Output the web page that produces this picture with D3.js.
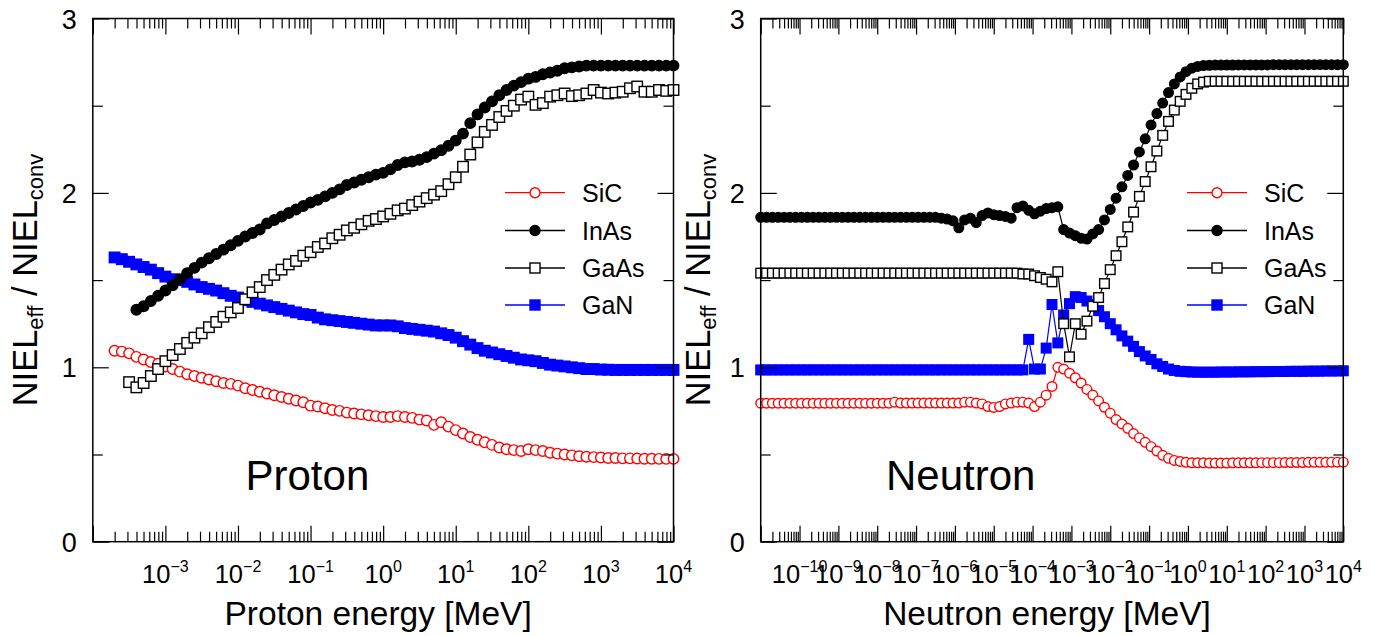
<!DOCTYPE html>
<html><head><meta charset="utf-8">
<script src="https://cdn.jsdelivr.net/npm/d3@7"></script>
<style>
body{margin:0;background:#fff}
svg{display:block}
text{font-family:"Liberation Sans",Arial,Helvetica,sans-serif;fill:#000}
</style></head>
<body><svg id="chart" width="1382" height="636"></svg>
<script>
// ---------------- DATA ----------------
const seriesNames = ["SiC", "InAs", "GaAs", "GaN"];
const panelLabels = ["Proton", "Neutron"];
const xTitles = ["Proton energy [MeV]", "Neutron energy [MeV]"];
const protonTickExps = [-3, -2, -1, 0, 1, 2, 3, 4];
const neutronTickExps = [-10, -9, -8, -7, -6, -5, -4, -3, -2, -1, 0, 1, 2, 3, 4];
const yTicks = [0, 1, 2, 3];
const yMinorTicks = [0.5, 1.5, 2.5];

// Proton panel: log10(E / MeV)
const protonLogE = [-3.7,-3.6,-3.5,-3.4,-3.3,-3.2,-3.1,-3.0,-2.9,-2.8,-2.7,-2.6,-2.5,-2.4,-2.3,-2.2,-2.1,-2.0,-1.9,-1.8,
 -1.7,-1.6,-1.5,-1.4,-1.3,-1.2,-1.1,-1.0,-0.9,-0.8,-0.7,-0.6,-0.5,-0.4,-0.3,-0.2,-0.1,0.0,0.1,0.2,
 0.3,0.4,0.5,0.6,0.7,0.8,0.9,1.0,1.1,1.2,1.3,1.4,1.5,1.6,1.7,1.8,1.9,2.0,2.1,2.2,
 2.3,2.4,2.5,2.6,2.7,2.8,2.9,3.0,3.1,3.2,3.3,3.4,3.5,3.6,3.7,3.8,3.9,4.0];
const protonSiC = [1.095,1.09,1.08,1.06,1.045,1.03,1.02,1.005,0.99,0.975,0.96,0.95,0.94,0.93,0.92,0.91,0.905,0.895,0.88,0.87,
 0.86,0.85,0.84,0.83,0.82,0.81,0.80,0.78,0.775,0.765,0.755,0.75,0.74,0.735,0.73,0.725,0.72,0.715,0.715,0.72,
 0.715,0.71,0.70,0.695,0.67,0.685,0.66,0.64,0.62,0.60,0.585,0.57,0.555,0.54,0.53,0.525,0.52,0.53,0.525,0.52,
 0.51,0.505,0.50,0.495,0.49,0.487,0.485,0.483,0.48,0.48,0.478,0.478,0.477,0.476,0.476,0.475,0.475,0.475];
const protonInAs = [null,null,null,1.33,1.35,1.38,1.41,1.44,1.47,1.505,1.54,1.57,1.60,1.625,1.65,1.675,1.70,1.725,1.75,1.77,
 1.79,1.825,1.845,1.865,1.885,1.905,1.925,1.945,1.96,1.98,2.0,2.02,2.045,2.06,2.075,2.09,2.105,2.115,2.135,2.16,
 2.175,2.18,2.19,2.205,2.225,2.245,2.27,2.30,2.34,2.40,2.45,2.49,2.525,2.56,2.59,2.615,2.635,2.655,2.665,2.68,
 2.69,2.70,2.715,2.72,2.725,2.73,2.73,2.73,2.73,2.73,2.73,2.73,2.73,2.73,2.73,2.73,2.73,2.73];
const protonGaAs = [null,null,0.915,0.885,0.91,0.95,0.99,1.035,1.07,1.105,1.14,1.17,1.195,1.23,1.26,1.29,1.315,1.34,1.39,1.43,
 1.46,1.50,1.53,1.56,1.59,1.61,1.64,1.66,1.69,1.71,1.74,1.76,1.785,1.80,1.82,1.84,1.85,1.865,1.88,1.90,
 1.91,1.93,1.95,1.97,1.99,2.01,2.05,2.09,2.15,2.22,2.29,2.35,2.39,2.435,2.47,2.50,2.535,2.552,2.505,2.515,
 2.552,2.56,2.57,2.555,2.56,2.57,2.59,2.575,2.57,2.575,2.58,2.60,2.61,2.58,2.58,2.59,2.585,2.59];
const protonGaN = [1.63,1.62,1.605,1.59,1.575,1.56,1.54,1.52,1.505,1.50,1.49,1.475,1.46,1.45,1.44,1.425,1.41,1.40,1.385,1.375,
 1.365,1.355,1.345,1.335,1.325,1.315,1.305,1.30,1.285,1.275,1.27,1.265,1.26,1.255,1.25,1.245,1.24,1.24,1.24,1.235,
 1.225,1.22,1.215,1.21,1.205,1.195,1.185,1.17,1.15,1.13,1.11,1.095,1.085,1.075,1.065,1.055,1.045,1.04,1.035,1.025,
 1.015,1.01,1.005,1.0,0.995,0.99,0.99,0.987,0.986,0.985,0.985,0.985,0.985,0.985,0.985,0.985,0.985,0.985];

// Neutron panel: log10(E / MeV)
const neutronLogE = [-11.00,-10.85,-10.70,-10.55,-10.40,-10.25,-10.10,-9.95,-9.80,-9.65,-9.50,-9.35,-9.20,-9.05,-8.90,-8.75,-8.60,-8.45,-8.30,-8.15,
 -8.00,-7.85,-7.70,-7.55,-7.40,-7.25,-7.10,-6.95,-6.80,-6.65,-6.50,-6.35,-6.20,-6.05,-5.90,-5.75,-5.60,-5.45,-5.30,-5.15,
 -5.00,-4.85,-4.70,-4.55,-4.40,-4.25,-4.10,-3.95,-3.80,-3.65,-3.50,-3.35,-3.20,-3.05,-2.90,-2.75,-2.60,-2.45,-2.30,-2.15,
 -2.00,-1.85,-1.70,-1.55,-1.40,-1.25,-1.10,-0.95,-0.80,-0.65,-0.50,-0.35,-0.20,-0.05,0.10,0.25,0.40,0.55,0.70,0.85,
 1.00,1.15,1.30,1.45,1.60,1.75,1.90,2.05,2.20,2.35,2.50,2.65,2.80,2.95,3.10,3.25,3.40,3.55,3.70,3.85,4.00];
const neutronSiC = [0.794,0.794,0.794,0.794,0.794,0.794,0.794,0.794,0.794,0.794,0.794,0.794,0.794,0.794,0.794,0.794,0.794,0.794,0.794,0.794,
 0.794,0.794,0.794,0.80,0.795,0.795,0.795,0.795,0.795,0.795,0.795,0.795,0.795,0.795,0.795,0.80,0.80,0.795,0.79,0.775,
 0.77,0.775,0.79,0.795,0.80,0.80,0.795,0.775,0.80,0.84,0.89,1.0,0.99,0.966,0.94,0.91,0.873,0.841,0.807,0.771,
 0.737,0.70,0.675,0.65,0.62,0.595,0.57,0.545,0.52,0.495,0.478,0.466,0.46,0.455,0.452,0.452,0.452,0.451,0.451,0.451,
 0.451,0.452,0.452,0.452,0.452,0.452,0.453,0.453,0.453,0.453,0.454,0.454,0.454,0.454,0.455,0.455,0.455,0.455,0.456,0.456,0.456];
const neutronInAs = [1.86,1.86,1.86,1.86,1.86,1.86,1.86,1.86,1.86,1.86,1.86,1.86,1.86,1.86,1.86,1.86,1.86,1.86,1.86,1.86,
 1.86,1.86,1.86,1.86,1.86,1.86,1.86,1.86,1.86,1.86,1.86,1.855,1.85,1.84,1.80,1.845,1.855,1.83,1.87,1.885,
 1.875,1.87,1.865,1.855,1.915,1.925,1.90,1.88,1.895,1.91,1.915,1.92,1.79,1.77,1.755,1.74,1.735,1.765,1.79,1.845,
 1.905,1.97,2.035,2.10,2.16,2.235,2.31,2.39,2.455,2.515,2.575,2.625,2.665,2.695,2.715,2.725,2.73,2.732,2.733,2.733,
 2.733,2.733,2.734,2.734,2.734,2.734,2.734,2.734,2.735,2.735,2.735,2.735,2.735,2.735,2.735,2.735,2.735,2.735,2.735,2.735,2.735];
const neutronGaAs = [1.54,1.54,1.54,1.54,1.54,1.54,1.54,1.54,1.54,1.54,1.54,1.54,1.54,1.54,1.54,1.54,1.54,1.54,1.54,1.54,
 1.54,1.54,1.54,1.54,1.54,1.54,1.54,1.54,1.54,1.54,1.54,1.54,1.54,1.54,1.54,1.54,1.54,1.54,1.54,1.54,
 1.54,1.54,1.54,1.54,1.54,1.535,1.535,1.525,1.515,1.505,1.49,1.548,1.25,1.06,1.25,1.19,1.265,1.35,1.40,1.48,
 1.56,1.64,1.72,1.805,1.89,1.98,2.065,2.15,2.24,2.33,2.41,2.475,2.525,2.565,2.60,2.625,2.635,2.64,2.64,2.64,
 2.64,2.64,2.64,2.64,2.64,2.64,2.64,2.64,2.64,2.64,2.64,2.64,2.64,2.64,2.64,2.64,2.64,2.64,2.64,2.64,2.64];
const neutronGaN = [0.985,0.985,0.985,0.985,0.985,0.985,0.985,0.985,0.985,0.985,0.985,0.985,0.985,0.985,0.985,0.985,0.985,0.985,0.985,0.985,
 0.985,0.985,0.985,0.985,0.985,0.985,0.985,0.985,0.985,0.985,0.985,0.985,0.985,0.985,0.985,0.985,0.985,0.985,0.985,0.985,
 0.985,0.985,0.985,0.985,0.985,0.985,1.16,0.99,0.99,1.11,1.36,1.14,1.30,1.365,1.405,1.40,1.38,1.36,1.325,1.29,
 1.25,1.215,1.18,1.15,1.12,1.09,1.065,1.045,1.02,1.005,0.99,0.982,0.977,0.975,0.973,0.972,0.972,0.972,0.972,0.973,
 0.973,0.973,0.974,0.974,0.974,0.975,0.975,0.975,0.976,0.976,0.976,0.977,0.977,0.977,0.978,0.978,0.978,0.979,0.979,0.979,0.98];

// ---------------- STYLE ----------------
const styles = {
  SiC:  {color: "#ff0000", shape: "circle", fill: "#ffffff"},
  InAs: {color: "#000000", shape: "circle", fill: "#000000"},
  GaAs: {color: "#000000", shape: "square", fill: "#ffffff"},
  GaN:  {color: "#0000ff", shape: "square", fill: "#0000ff"}
};
const drawOrder = ["GaN", "SiC", "InAs", "GaAs"];

const svg = d3.select("#chart");
svg.append("rect").attr("width", 1382).attr("height", 636).attr("fill", "#fff");

const yScale = d3.scaleLinear().domain([0, 3]).range([541.7, 18.5]);

function marker(g, shape, cx, cy, size, color, fill) {
  if (shape === "circle") {
    g.append("circle").attr("cx", cx).attr("cy", cy).attr("r", size / 2)
      .attr("fill", fill).attr("stroke", color).attr("stroke-width", 1.4);
  } else {
    g.append("rect").attr("x", cx - size / 2).attr("y", cy - size / 2)
      .attr("width", size).attr("height", size)
      .attr("fill", fill).attr("stroke", color).attr("stroke-width", 1.4);
  }
}

function drawPanel(cfg) {
  const x = d3.scaleLog().domain(cfg.domain).range([cfg.x0, cfg.x1]);
  const y = yScale;
  const g = svg.append("g");

  // series
  drawOrder.forEach(name => {
    const st = styles[name];
    const vals = cfg.data[name];
    const pts = cfg.logE.map((e, i) => ({e: e, v: vals[i]})).filter(d => d.v != null);
    const line = d3.line().x(d => x(Math.pow(10, d.e))).y(d => y(d.v));
    g.append("path").attr("d", line(pts)).attr("fill", "none")
      .attr("stroke", st.color).attr("stroke-width", 1.2);
    const mg = g.append("g");
    pts.forEach(d => marker(mg, st.shape, x(Math.pow(10, d.e)), y(d.v), cfg.msize, st.color, st.fill));
  });

  // ticks
  const lo = Math.round(Math.log10(cfg.domain[0])), hi = Math.round(Math.log10(cfg.domain[1]));
  const majors = [], minors = [];
  for (let e = lo; e <= hi; e++) majors.push(Math.pow(10, e));
  for (let e = lo; e < hi; e++) for (let k = 2; k <= 9; k++) minors.push(k * Math.pow(10, e));

  const tickStyle = s => { s.select(".domain").remove(); s.selectAll("line").attr("stroke", "#000").attr("stroke-width", 1.2); };
  const bottomY = y(0), topY = y(3);
  g.append("g").attr("transform", `translate(0,${bottomY})`).call(d3.axisBottom(x).tickValues(majors).tickSize(-16).tickFormat("")).call(tickStyle);
  g.append("g").attr("transform", `translate(0,${bottomY})`).call(d3.axisBottom(x).tickValues(minors).tickSize(-10).tickFormat("")).call(tickStyle);
  g.append("g").attr("transform", `translate(0,${topY})`).call(d3.axisTop(x).tickValues(majors).tickSize(-16).tickFormat("")).call(tickStyle);
  g.append("g").attr("transform", `translate(0,${topY})`).call(d3.axisTop(x).tickValues(minors).tickSize(-10).tickFormat("")).call(tickStyle);
  g.append("g").attr("transform", `translate(${cfg.x0},0)`).call(d3.axisLeft(y).tickValues(yTicks).tickSize(-16).tickFormat("")).call(tickStyle);
  g.append("g").attr("transform", `translate(${cfg.x0},0)`).call(d3.axisLeft(y).tickValues(yMinorTicks).tickSize(-10).tickFormat("")).call(tickStyle);
  g.append("g").attr("transform", `translate(${cfg.x1},0)`).call(d3.axisRight(y).tickValues(yTicks).tickSize(-16).tickFormat("")).call(tickStyle);
  g.append("g").attr("transform", `translate(${cfg.x1},0)`).call(d3.axisRight(y).tickValues(yMinorTicks).tickSize(-10).tickFormat("")).call(tickStyle);

  // frame
  g.append("rect").attr("x", cfg.x0).attr("y", topY).attr("width", cfg.x1 - cfg.x0)
    .attr("height", bottomY - topY).attr("fill", "none").attr("stroke", "#000").attr("stroke-width", 1.5);

  // x tick labels
  cfg.tickExps.forEach(e => {
    const t = g.append("text").attr("x", x(Math.pow(10, e))).attr("y", 583)
      .attr("text-anchor", "middle").attr("font-size", 25.5);
    t.append("tspan").text("10");
    t.append("tspan").attr("dy", -11).attr("font-size", 16).text(e < 0 ? "\u2212" + (-e) : String(e));
  });
  // y tick labels
  yTicks.forEach(v => {
    g.append("text").attr("x", cfg.x0 - 16).attr("y", y(v) + 10).attr("text-anchor", "end")
      .attr("font-size", 27).text(String(v));
  });
  // x title
  g.append("text").attr("x", (cfg.x0 + cfg.x1) / 2 - 5).attr("y", 625).attr("text-anchor", "middle")
    .attr("font-size", 33.5).text(cfg.xTitle);
  // y title
  const yt = g.append("text").attr("transform", `translate(${cfg.yTitleX},280) rotate(-90)`)
    .attr("text-anchor", "middle").attr("font-size", 34.5);
  yt.append("tspan").text("NIEL");
  yt.append("tspan").attr("dy", 6).attr("font-size", 22).text("eff");
  yt.append("tspan").attr("dy", -6).text(" / NIEL");
  yt.append("tspan").attr("dy", 6).attr("font-size", 22).text("conv");
  // panel label
  g.append("text").attr("x", cfg.labelX).attr("y", 490).attr("font-size", 42).text(cfg.label);

  // legend
  const rowsY = [192.7, 230.5, 268, 305];
  seriesNames.forEach((name, i) => {
    const st = styles[name];
    const ly = rowsY[i];
    g.append("line").attr("x1", cfg.legX).attr("x2", cfg.legX + 60).attr("y1", ly).attr("y2", ly)
      .attr("stroke", st.color).attr("stroke-width", 1.3);
    marker(g, st.shape, cfg.legX + 30, ly, 10, st.color, st.fill);
    g.append("text").attr("x", cfg.legX + 77).attr("y", ly + 9).attr("font-size", 25).text(name);
  });
}

drawPanel({
  domain: [1e-4, 1e4], x0: 92.8, x1: 673.5, logE: protonLogE,
  data: {SiC: protonSiC, InAs: protonInAs, GaAs: protonGaAs, GaN: protonGaN},
  tickExps: protonTickExps, xTitle: xTitles[0], label: panelLabels[0], labelX: 245.5,
  yTitleX: 37, legX: 505, msize: 10.5
});
drawPanel({
  domain: [1e-11, 1e4], x0: 760.7, x1: 1343.3, logE: neutronLogE,
  data: {SiC: neutronSiC, InAs: neutronInAs, GaAs: neutronGaAs, GaN: neutronGaN},
  tickExps: neutronTickExps, xTitle: xTitles[1], label: panelLabels[1], labelX: 886,
  yTitleX: 710, legX: 1187, msize: 9.6
});
</script></body></html>
